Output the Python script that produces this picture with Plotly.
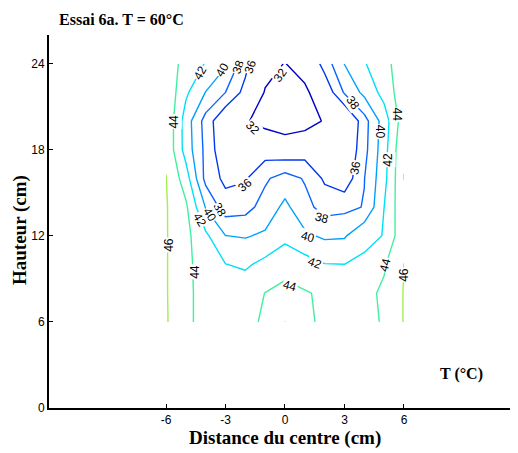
import plotly.graph_objects as go

# grid (cm)
x_cm = [-6, -5, -4, -3, -2, -1, 0, 1, 2, 3, 4, 5, 6]
y_cm = [6, 8, 10, 12, 14, 16, 18, 20, 22, 24]

# temperature rows (°C), one list per height
T_y06 = [46.19, 44.31, 43.5, 43.3, 43.5, 44.27, 46.02, 44.52, 43.5, 43.3, 43.6, 44.13, 46.1]
T_y08 = [46.15, 44.31, 43.5, 43.3, 43.2, 44.03, 44.57, 44.15, 43.71, 43.3, 43.5, 44.31, 46.09]
T_y10 = [46.13, 44.52, 43.0, 42.05, 41.7, 42.58, 43.3, 42.87, 42.08, 42.02, 42.22, 43.8, 46.02]
T_y12 = [46.13, 44.56, 42.4, 40.03, 39.85, 40.3, 41.5, 40.38, 39.68, 39.79, 41.7, 42.04, 45.6]
T_y14 = [46.14, 44.35, 39.9, 36.98, 37.29, 38.8, 40.47, 38.66, 37.23, 37.48, 38.1, 42.0, 45.64]
T_y16 = [46.05, 43.0, 37.4, 35.48, 35.81, 37.7, 38.89, 37.82, 35.68, 34.64, 37.95, 41.4, 46.02]
T_y18 = [45.7, 41.2, 37.48, 34.26, 34.5, 35.0, 34.44, 35.0, 34.5, 33.85, 37.37, 41.2, 45.9]
T_y20 = [45.76, 41.07, 37.22, 34.0, 32.3, 30.9, 29.8, 30.5, 32.3, 33.13, 37.23, 40.95, 45.2]
T_y22 = [45.64, 42.36, 39.95, 38.0, 35.3, 31.8, 30.8, 31.31, 34.38, 38.23, 40.53, 42.69, 45.31]
T_y24 = [45.0, 43.39, 41.88, 40.29, 36.65, 33.05, 31.9, 33.5, 36.84, 40.05, 41.85, 43.35, 45.2]

levels = [32, 36, 38, 40, 42, 44, 46]
level_colors = ["#0000c8", "#0038f0", "#0a64ff", "#00a0ff", "#00e0f8", "#40f0a0", "#a0f050"]

# contour labels: value, x (cm), y (cm), text angle
label_vals = [42, 40, 38, 36, 32, 44, 32, 38, 40, 44, 42, 36, 36, 38, 40, 42, 38, 40, 42, 44, 46, 44, 44, 46]
label_x = [-4.29, -3.18, -2.37, -1.77, -0.25, -5.6, -1.61, 3.43, 4.79, 5.65, 5.19, 3.53,
           -2.02, -3.28, -3.78, -4.29, 1.87, 1.16, 1.51, 0.25, -5.85, -4.54, 5.04, 6.0]
label_y = [23.38, 23.59, 23.8, 23.8, 23.24, 19.96, 19.54, 21.26, 19.26, 20.45, 17.3, 16.75,
           15.56, 13.82, 13.47, 13.12, 13.26, 11.93, 10.12, 8.51, 11.37, 9.49, 9.98, 9.28]
label_angle = [-60, -60, -70, -70, -55, -90, 45, 55, 90, 90, -90, -80,
               -40, 60, 60, 60, 15, 15, 20, 15, -90, -90, -75, -90]

x_ticks = [-6, -3, 0, 3, 6]
x_ticktext = ["-6", "-3", "0", "3", "6"]
y_ticks = [0, 6, 12, 18, 24]

z = [T_y06, T_y08, T_y10, T_y12, T_y14, T_y16, T_y18, T_y20, T_y22, T_y24]

fig = go.Figure()
for lev, col in zip(levels, level_colors):
    fig.add_trace(go.Contour(
        x=x_cm, y=y_cm, z=z,
        autocontour=False,
        contours=dict(start=lev, end=lev, size=2, coloring="none", showlabels=False),
        line=dict(color=col, width=1.4, smoothing=0),
        showscale=False, hoverinfo="skip",
    ))

serif = "Liberation Serif"
annotations = []
for v, lx, ly, ang in zip(label_vals, label_x, label_y, label_angle):
    annotations.append(dict(
        text=str(v), x=lx, y=ly, xref="x", yref="y", showarrow=False,
        textangle=ang, bgcolor="white", borderpad=0,
        font=dict(family="Liberation Sans", size=12, color="black")))

# the page body has an 8 px margin: plot area spans x 49..518, y 35..408 in the window
annotations += [
    dict(text="<b>Essai 6a. T = 60°C</b>", xref="paper", yref="paper",
         x=(57 - 49) / 469, y=(408 - 20) / 373, xanchor="left", yanchor="middle",
         showarrow=False, font=dict(family=serif, size=16, color="black")),
    dict(text="<b>Distance du centre (cm)</b>", xref="paper", yref="paper",
         x=(285 - 49) / 469, y=(408 - 438) / 373, xanchor="center", yanchor="middle",
         showarrow=False, font=dict(family=serif, size=19, color="black")),
    dict(text="<b>Hauteur (cm)</b>", xref="paper", yref="paper",
         x=(20 - 49) / 469, y=(408 - 230) / 373, xanchor="center", yanchor="middle",
         textangle=-90, showarrow=False, font=dict(family=serif, size=19, color="black")),
    dict(text="<b>T (°C)</b>", xref="paper", yref="paper",
         x=(461 - 49) / 469, y=(408 - 374) / 373, xanchor="center", yanchor="middle",
         showarrow=False, font=dict(family=serif, size=16, color="black")),
]

fig.update_layout(
    width=510, height=445,
    margin=dict(l=41, r=0, t=27, b=45),
    paper_bgcolor="white", plot_bgcolor="white",
    showlegend=False,
    xaxis=dict(range=[-11.9, 11.75], tickvals=x_ticks, ticktext=x_ticktext,
               showgrid=False, zeroline=False, showline=True, linecolor="black",
               linewidth=2, ticks="inside", ticklen=4, tickwidth=1.2, tickcolor="black",
               tickfont=dict(family="Liberation Sans", size=12, color="black")),
    yaxis=dict(range=[0, 26], tickvals=y_ticks,
               showgrid=False, zeroline=False, showline=True, linecolor="black",
               linewidth=2, ticks="inside", ticklen=4, tickwidth=1.2, tickcolor="black",
               tickfont=dict(family="Liberation Sans", size=12, color="black")),
    annotations=annotations,
)

fig.write_html("out.html")
